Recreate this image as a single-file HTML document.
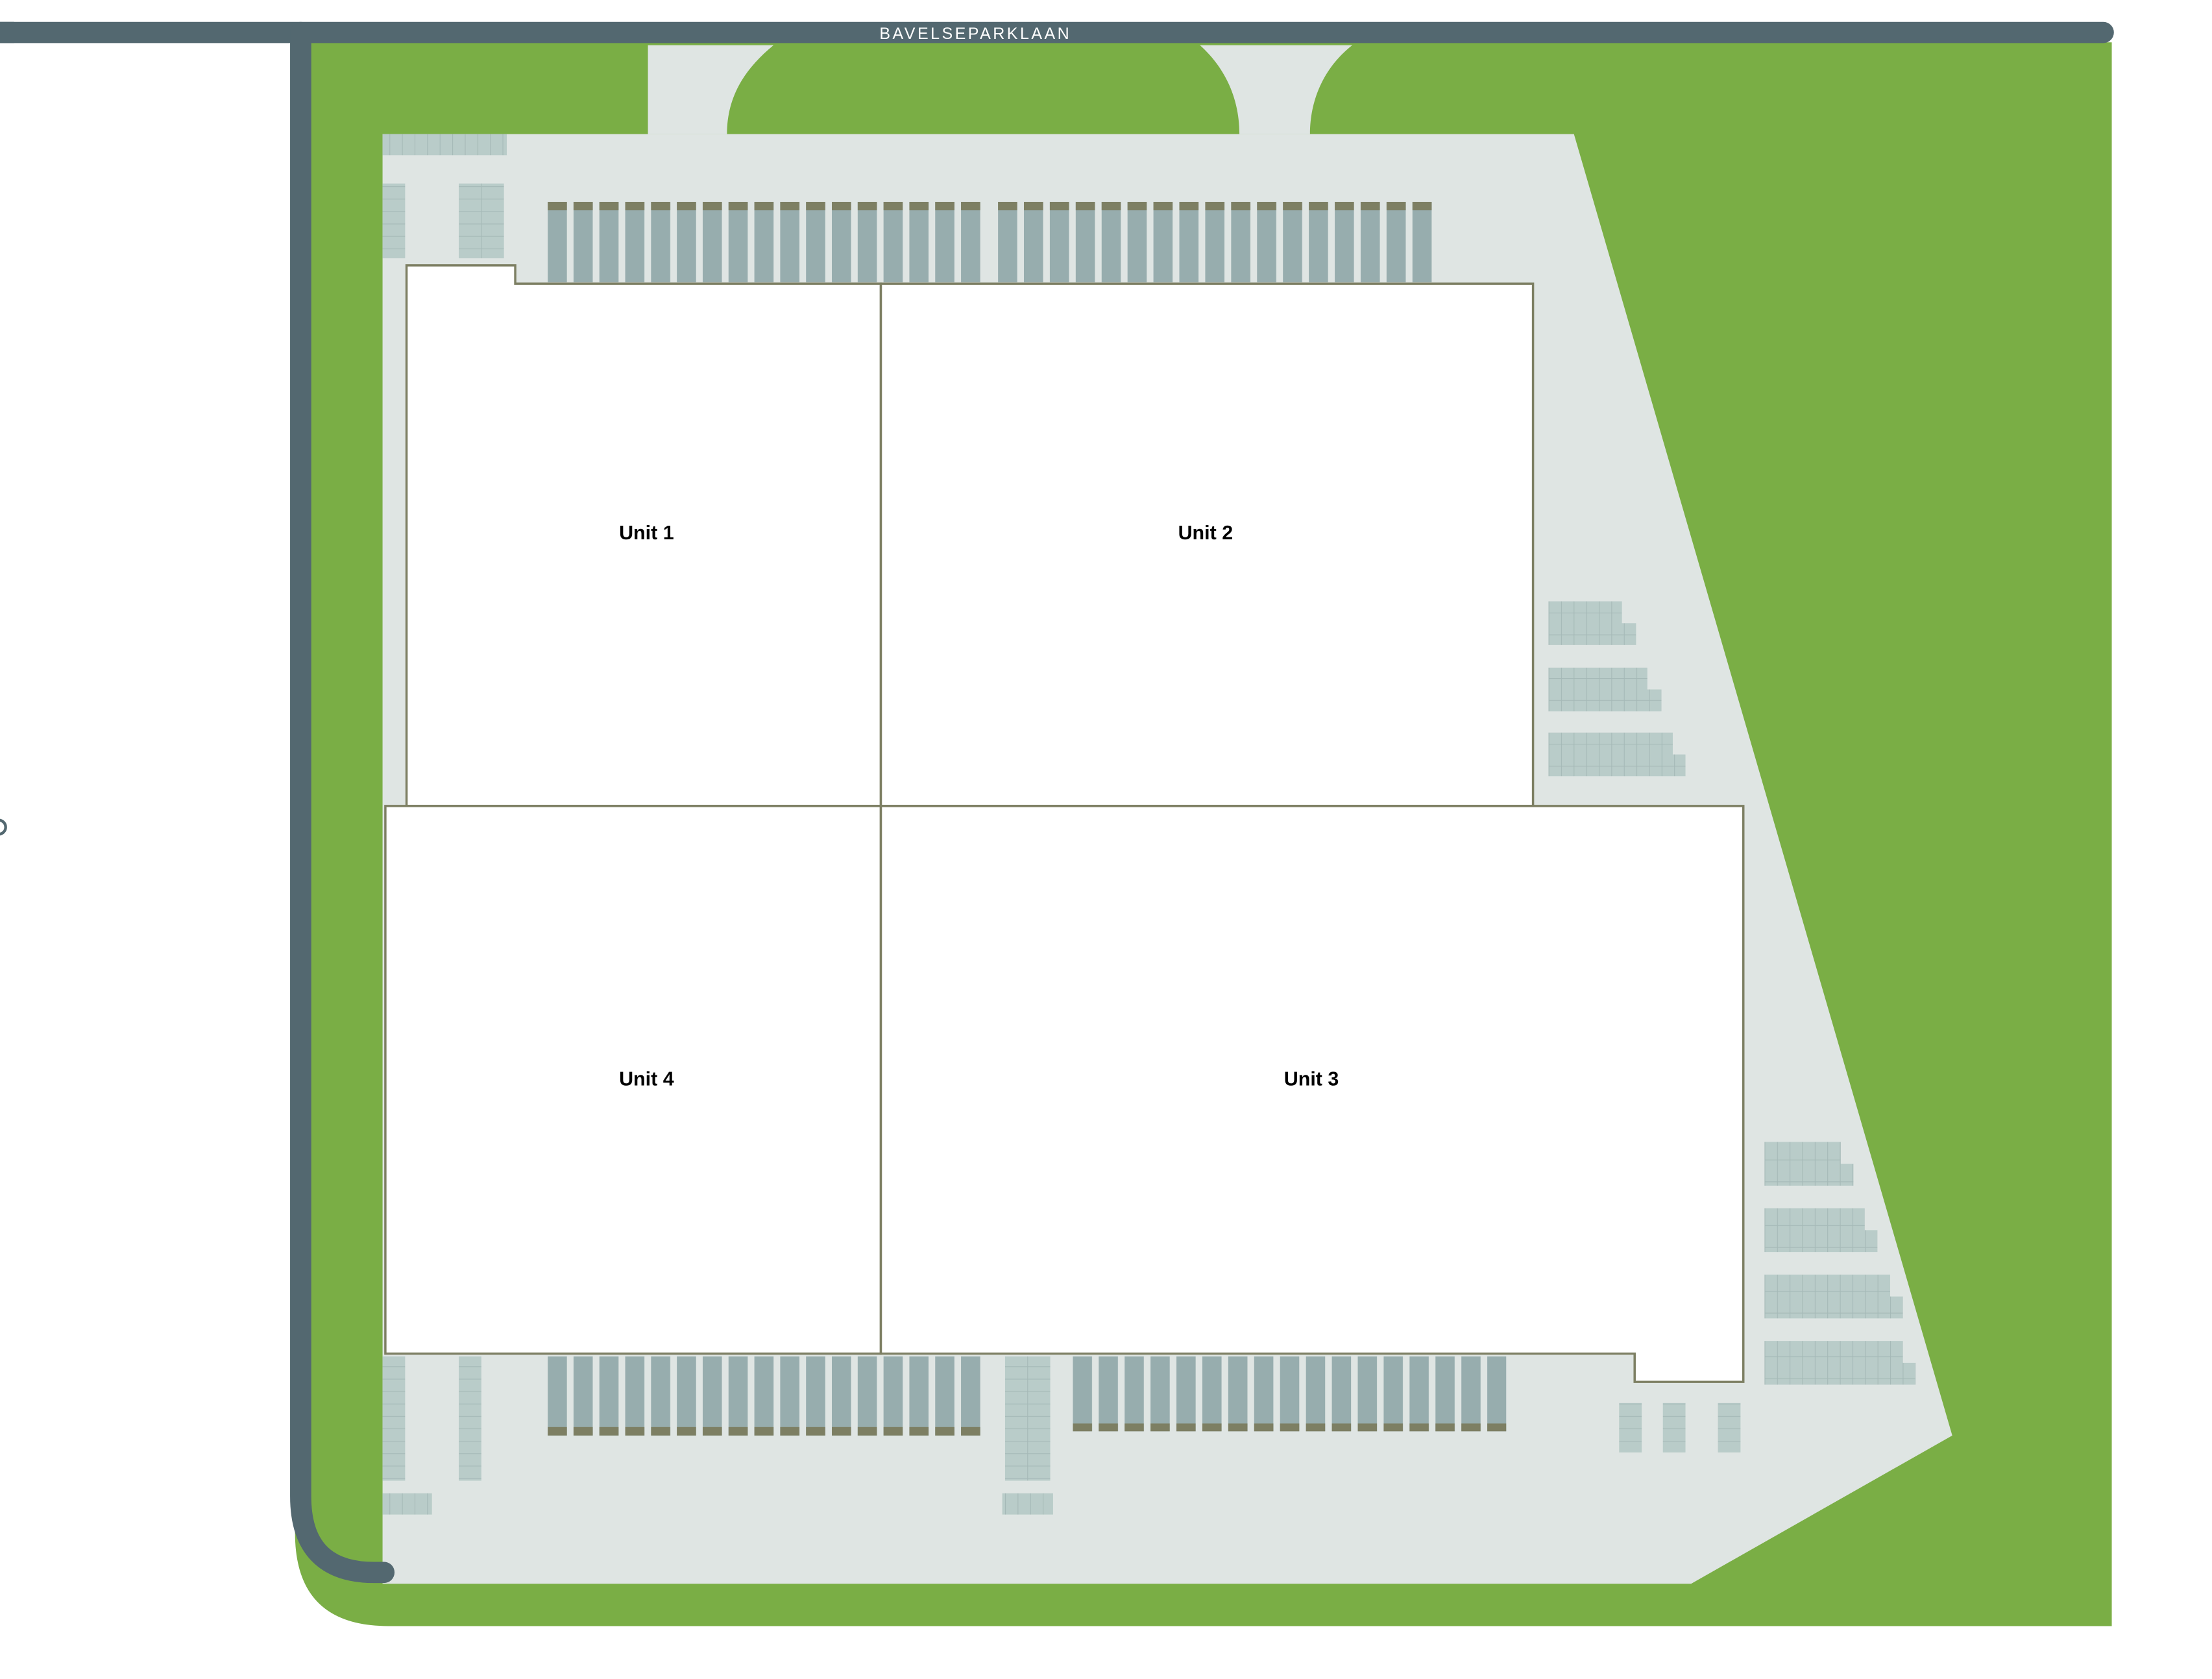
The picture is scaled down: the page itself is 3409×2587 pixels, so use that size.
<!DOCTYPE html>
<html><head><meta charset="utf-8"><style>
html,body{margin:0;padding:0;background:#fff;}
svg{display:block;}
</style></head><body>
<svg width="3409" height="2587" viewBox="0 0 1567 1189.5" xmlns="http://www.w3.org/2000/svg" preserveAspectRatio="none">
<defs>
<pattern id="barsA" patternUnits="userSpaceOnUse" x="388" y="0" width="18.3" height="2000"><rect x="0" y="0" width="13.6" height="2000" fill="#97adae"/></pattern>
<pattern id="capsA" patternUnits="userSpaceOnUse" x="388" y="0" width="18.3" height="2000"><rect x="0" y="0" width="13.6" height="2000" fill="#7d7f63"/></pattern>
<pattern id="barsB" patternUnits="userSpaceOnUse" x="707" y="0" width="18.35" height="2000"><rect x="0" y="0" width="13.6" height="2000" fill="#97adae"/></pattern>
<pattern id="capsB" patternUnits="userSpaceOnUse" x="707" y="0" width="18.35" height="2000"><rect x="0" y="0" width="13.6" height="2000" fill="#7d7f63"/></pattern>
<pattern id="barsC" patternUnits="userSpaceOnUse" x="760" y="0" width="18.35" height="2000"><rect x="0" y="0" width="13.6" height="2000" fill="#97adae"/></pattern>
<pattern id="capsC" patternUnits="userSpaceOnUse" x="760" y="0" width="18.35" height="2000"><rect x="0" y="0" width="13.6" height="2000" fill="#7d7f63"/></pattern>
<pattern id="gridV" patternUnits="userSpaceOnUse" x="0" y="0" width="8.9" height="2000"><rect width="8.9" height="2000" fill="#b9ccc9"/><rect width="0.5" height="2000" fill="#a5b9b7"/></pattern>
<pattern id="gridH" patternUnits="userSpaceOnUse" x="0" y="0" width="2000" height="8.8"><rect width="2000" height="8.8" fill="#b9ccc9"/><rect width="2000" height="0.5" fill="#a5b9b7"/></pattern>
<pattern id="gridR" patternUnits="userSpaceOnUse" x="1097" y="0" width="8.9" height="15.5"><rect width="8.9" height="15.5" fill="#b9ccc9"/><rect width="0.5" height="15.5" fill="#a5b9b7"/><rect width="8.9" height="0.5" fill="#a5b9b7"/></pattern>
<pattern id="gridR2" patternUnits="userSpaceOnUse" x="1250" y="0" width="8.9" height="15.5"><rect width="8.9" height="15.5" fill="#b9ccc9"/><rect width="0.5" height="15.5" fill="#a5b9b7"/><rect width="8.9" height="0.5" fill="#a5b9b7"/></pattern>
</defs>

<path d="M209,30 L1496,30 L1496,1152 L275,1152 Q209,1152 209,1086 Z" fill="#7aae45"/>

<path d="M271,95 L1115,95 L1383,1017 L1198,1122 L271,1122 Z" fill="#dfe5e3"/>
<path d="M459,32 L548,32 C526,50 515,70 515,95 L459,95 Z" fill="#dfe5e3"/>
<path d="M850,32 C868,48 878,70 878,95 L928,95 C928,68 940,46 958,32 Z" fill="#dfe5e3"/>

<line x1="0" y1="23" x2="1490" y2="23" stroke="#536870" stroke-width="15" stroke-linecap="round"/>
<rect x="0" y="15.5" width="10" height="15" fill="#536870"/>
<path d="M213,23 L213,1060 Q213,1114 265,1114 L272,1114" fill="none" stroke="#536870" stroke-width="15" stroke-linecap="round"/>
<text x="691" y="27.5" font-family="Liberation Sans, sans-serif" font-size="11.5" fill="#ffffff" text-anchor="middle" letter-spacing="1.6">BAVELSEPARKLAAN</text>
<circle cx="-1" cy="586" r="5" fill="none" stroke="#536870" stroke-width="2"/>

<rect x="271" y="95" width="88" height="15" fill="url(#gridV)"/>
<rect x="271" y="130" width="16" height="53" fill="url(#gridH)"/>
<rect x="325" y="130" width="32" height="53" fill="url(#gridH)"/>
<line x1="341" y1="130" x2="341" y2="183" stroke="#a5b9b7" stroke-width="0.5"/>

<rect x="388" y="143" width="307" height="57" fill="url(#barsA)"/>
<rect x="388" y="143" width="307" height="6" fill="url(#capsA)"/>
<rect x="707" y="143" width="308" height="57" fill="url(#barsB)"/>
<rect x="707" y="143" width="308" height="6" fill="url(#capsB)"/>

<rect x="388" y="961" width="307" height="56" fill="url(#barsA)"/>
<rect x="388" y="1011" width="307" height="6" fill="url(#capsA)"/>
<rect x="760" y="961" width="307" height="53" fill="url(#barsC)"/>
<rect x="760" y="1008.5" width="307" height="5.5" fill="url(#capsC)"/>

<rect x="271" y="961" width="16" height="88" fill="url(#gridH)"/>
<rect x="325" y="961" width="16" height="88" fill="url(#gridH)"/>
<rect x="271" y="1058" width="35" height="15" fill="url(#gridV)"/>
<rect x="712" y="961" width="32" height="88" fill="url(#gridH)"/>
<line x1="728" y1="961" x2="728" y2="1049" stroke="#a5b9b7" stroke-width="0.5"/>
<rect x="710" y="1058" width="36" height="15" fill="url(#gridV)"/>
<rect x="1147" y="994" width="16" height="35" fill="url(#gridH)"/>
<rect x="1178" y="994" width="16" height="35" fill="url(#gridH)"/>
<rect x="1217" y="994" width="16" height="35" fill="url(#gridH)"/>

<path d="M1097,426 H1149 V441.5 H1159 V457 H1097 Z" fill="url(#gridR)"/>
<path d="M1097,473 H1167 V488.5 H1177 V504 H1097 Z" fill="url(#gridR)"/>
<path d="M1097,519 H1185 V534.5 H1194 V550 H1097 Z" fill="url(#gridR)"/>
<path d="M1250,809 H1304 V824.5 H1313 V840 H1250 Z" fill="url(#gridR2)"/>
<path d="M1250,856 H1321 V871.5 H1330 V887 H1250 Z" fill="url(#gridR2)"/>
<path d="M1250,903 H1339 V918.5 H1348 V934 H1250 Z" fill="url(#gridR2)"/>
<path d="M1250,950 H1348 V965.5 H1357 V981 H1250 Z" fill="url(#gridR2)"/>

<g fill="#ffffff" stroke="#7d7f63" stroke-width="1.6">
<path d="M288,188 H365 V201 H624 V571 H288 Z"/>
<rect x="624" y="201" width="462" height="370"/>
<rect x="273" y="571" width="351" height="388"/>
<path d="M624,571 H1235 V979 H1158 V959 H624 Z"/>
</g>

<g font-family="Liberation Sans, sans-serif" font-size="14" font-weight="bold" fill="#000" text-anchor="middle">
<text x="458" y="382">Unit 1</text>
<text x="854" y="382">Unit 2</text>
<text x="458" y="769">Unit 4</text>
<text x="929" y="769">Unit 3</text>
</g>
</svg>
</body></html>
